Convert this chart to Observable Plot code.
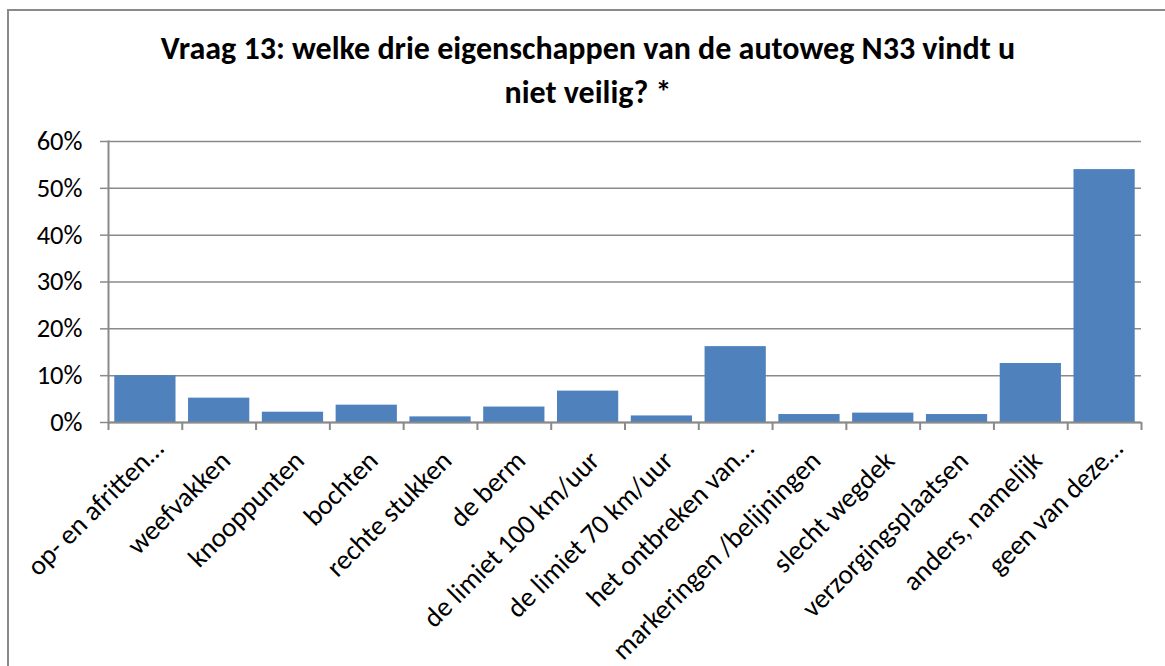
<!DOCTYPE html>
<html>
<head>
<meta charset="utf-8">
<script src="https://cdn.jsdelivr.net/npm/d3@7"></script>
<script src="https://cdn.jsdelivr.net/npm/@observablehq/plot@0.6"></script>
<style>
  html, body { margin: 0; padding: 0; background: #fff; }
  #wrap { position: relative; width: 1165px; height: 666px; overflow: hidden; font-family: Carlito, Calibri, Lato, sans-serif; }
  #border { position: absolute; left: 7px; top: 9px; width: 1200px; height: 700px; border-left: 2px solid #8a8a8a; border-top: 2px solid #8a8a8a; pointer-events: none; }
  #title { height: 120px; box-sizing: border-box; padding-top: 27px; padding-left: 11px; text-align: center; font-weight: bold; font-size: 32px; line-height: 44px; color: #000; white-space: nowrap; }
  #chart svg { display: block; }
</style>
</head>
<body>
<div id="wrap">
  <div id="title">Vraag 13: welke drie eigenschappen van de autoweg N33 vindt u<br>niet veilig? *</div>
  <div id="chart"></div>
  <div id="border"></div>
</div>
<script>
const categories = [
  "op- en afritten…", "weefvakken", "knooppunten", "bochten", "rechte stukken",
  "de berm", "de limiet 100 km/uur", "de limiet 70 km/uur", "het ontbreken van…",
  "markeringen /belijningen", "slecht wegdek", "verzorgingsplaatsen",
  "anders, namelijk", "geen van deze…"
];
const values = [10.0, 5.2, 2.2, 3.7, 1.2, 3.3, 6.7, 1.4, 16.2, 1.7, 2.0, 1.7, 12.6, 54.0];
const yTicks = [0, 10, 20, 30, 40, 50, 60];

const data = categories.map((c, i) => ({cat: c, value: values[i]}));

const W = 1165, H = 546, ML = 108, MR = 24, MT = 21, MB = 244;
const step = (W - ML - MR) / categories.length;
const frameH = H - MT - MB;
const grey = "#8a8a8a";
const font = "Carlito, Calibri, Lato, sans-serif";

const chart = Plot.plot({
  width: W, height: H,
  marginLeft: ML, marginRight: MR, marginTop: MT, marginBottom: MB,
  style: {fontFamily: font, color: "#000", background: "#fff"},
  x: {domain: categories, paddingInner: 0.17, paddingOuter: 0.085, round: false, axis: null},
  y: {domain: [0, 60], axis: null},
  marks: [
    Plot.gridY(yTicks, {stroke: grey, strokeOpacity: 1, strokeWidth: 1.5}),
    Plot.barY(data, {x: "cat", y: "value", fill: "#4f81bd"}),
    Plot.axisY(yTicks, {label: null, tickSize: 8, tickPadding: 18, tickFormat: d => d + "%", fontSize: 26.5, stroke: grey, strokeWidth: 1.5, fill: "#000"}),
    Plot.ruleY([0], {stroke: grey, strokeWidth: 2}),
    Plot.frame({anchor: "left", stroke: grey, strokeWidth: 2}),
    Plot.ruleX(categories, {x: d => d, dx: -step / 2, insetTop: frameH, insetBottom: -8, stroke: grey, strokeWidth: 2}),
    Plot.ruleX([categories[categories.length - 1]], {x: d => d, dx: step / 2, insetTop: frameH, insetBottom: -8, stroke: grey, strokeWidth: 2}),
    Plot.text(data.filter(d => !d.cat.endsWith("…")), {x: "cat", text: "cat", frameAnchor: "bottom", rotate: -45, textAnchor: "end", lineAnchor: "top", dx: -1, dy: 26, fontSize: 27.5, fill: "#000"}),
    Plot.text(data.filter(d => d.cat.endsWith("…")), {x: "cat", text: "cat", frameAnchor: "bottom", rotate: -45, textAnchor: "end", lineAnchor: "top", dx: 6, dy: 14, fontSize: 27.5, fill: "#000"})
  ]
});
document.getElementById("chart").appendChild(chart);
</script>
</body>
</html>
